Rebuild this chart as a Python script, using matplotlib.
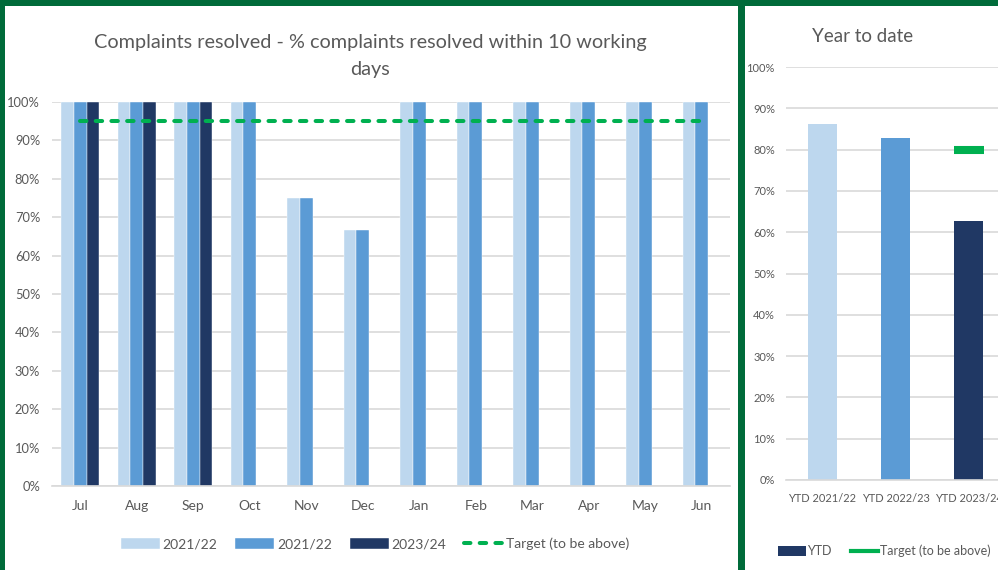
import numpy as np
import matplotlib
matplotlib.use("Agg")
import matplotlib.pyplot as plt
from matplotlib.patches import Rectangle, Patch
from matplotlib.lines import Line2D

# ---- data ----
months = ['Jul', 'Aug', 'Sep', 'Oct', 'Nov', 'Dec', 'Jan', 'Feb', 'Mar', 'Apr', 'May', 'Jun']
res_2122 = [100, 100, 100, 100, 75, 66.7, 100, 100, 100, 100, 100, 100]
res_2223 = [100, 100, 100, 100, 75, 66.7, 100, 100, 100, 100, 100, 100]
res_2324 = [100, 100, 100, None, None, None, None, None, None, None, None, None]
target = [95] * 12

ytd_labels = ['YTD 2021/22', 'YTD 2022/23', 'YTD 2023/24']
ytd_values = [86.2, 82.8, 62.7]
ytd_target = [None, None, 80]

# ---- styling ----
plt.rcParams['font.family'] = ['Lato', 'DejaVu Sans']
TXT = '#595959'
GRID = '#D9D9D9'
LIGHT = '#BDD7EE'
MID = '#5B9BD5'
DARK = '#203864'
GREEN = '#00B050'
BORDER = '#006B3A'

fig = plt.figure(figsize=(9.98, 5.70), dpi=100)
W, H = 998, 570


def px_axes(x0, y0, x1, y1):
    # axes from pixel box (top-left origin)
    return fig.add_axes([x0 / W, 1 - y1 / H, (x1 - x0) / W, (y1 - y0) / H])


def style_axes(ax, fs, ypad):
    for s in ['top', 'right', 'left']:
        ax.spines[s].set_visible(False)
    ax.spines['bottom'].set_color(GRID)
    ax.spines['bottom'].set_linewidth(1.2)
    ax.set_ylim(0, 100)
    ax.set_yticks(np.arange(0, 101, 10))
    ax.set_yticklabels([f'{v}%' for v in range(0, 101, 10)])
    ax.yaxis.grid(True, color=GRID, linewidth=1.2)
    ax.set_axisbelow(True)
    ax.tick_params(axis='both', length=0, colors=TXT, labelsize=fs)
    ax.tick_params(axis='y', pad=ypad)


# ---- monthly chart ----
ax = px_axes(52, 102, 730, 486)
style_axes(ax, 9.3, 8.5)
x = np.arange(len(months))
bw = 0.225
b1 = ax.bar(x - bw, res_2122, bw, color=LIGHT, edgecolor='white', linewidth=0.3, label='2021/22')
b2 = ax.bar(x, res_2223, bw, color=MID, edgecolor='white', linewidth=0.3, label='2021/22')
xi = [i for i, v in enumerate(res_2324) if v is not None]
b3 = ax.bar(np.array(xi) + bw, [res_2324[i] for i in xi], bw, color=DARK,
            edgecolor='white', linewidth=0.3, label='2023/24')
ln, = ax.plot(x, target, color=GREEN, linewidth=2.9, linestyle=(0, (1.6, 2.3)),
              dash_capstyle='round', label='Target (to be above)')
ax.set_xlim(-0.5, len(months) - 0.5)
ax.set_xticks(x)
ax.set_xticklabels(months)
ax.tick_params(axis='x', pad=10, labelsize=10)
fig.text(370 / W, 1 - 56 / H,
         'Complaints resolved - % complaints resolved within 10 working\ndays',
         ha='center', va='center', multialignment='center',
         fontsize=14.3, color=TXT, linespacing=1.7)
ax.legend(handles=[b1, b2, b3, ln], loc='center', bbox_to_anchor=(375 / W, 1 - 544 / H),
          bbox_transform=fig.transFigure, ncol=4, frameon=False,
          fontsize=10, labelcolor=TXT, handlelength=2.8, handleheight=0.85,
          handletextpad=0.2, columnspacing=1.3)

# ---- year to date chart ----
ax2 = px_axes(786, 67, 1005, 480)
style_axes(ax2, 8, 8)
xy = np.arange(len(ytd_labels))
ax2.bar(xy, ytd_values, 0.4, color=[LIGHT, MID, DARK])
ti = [i for i, v in enumerate(ytd_target) if v is not None]
ax2.plot(ti, [ytd_target[i] for i in ti], linestyle='none', marker='_',
         markersize=21, markeredgewidth=5.8, color=GREEN)
ax2.set_xlim(-0.5, len(ytd_labels) - 0.5)
ax2.set_xticks(xy)
ax2.set_xticklabels(ytd_labels)
ax2.tick_params(axis='x', pad=9, labelsize=7.9)
fig.text(863 / W, 1 - 36 / H, 'Year to date', ha='center', va='center',
         fontsize=13.5, color=TXT)
handles = [Patch(facecolor=DARK, label='YTD'),
           Line2D([0], [0], color=GREEN, linewidth=3, label='Target (to be above)')]
fig.legend(handles=handles, loc='center left', bbox_to_anchor=(778 / W, 1 - 551 / H),
           ncol=2, frameon=False, fontsize=9, labelcolor=TXT, handlelength=2.2,
           handleheight=0.8, handletextpad=0.15, columnspacing=1.5, borderpad=0,
           borderaxespad=0)

# ---- panel borders ----
for (bx, by, bwid, bht) in [(0, 0, 998, 6), (0, 0, 5, 570), (738, 0, 7, 570)]:
    fig.patches.append(Rectangle((bx / W, 1 - (by + bht) / H), bwid / W, bht / H,
                                 transform=fig.transFigure, facecolor=BORDER,
                                 edgecolor='none', zorder=10))

fig.savefig('out.png', dpi=100)
